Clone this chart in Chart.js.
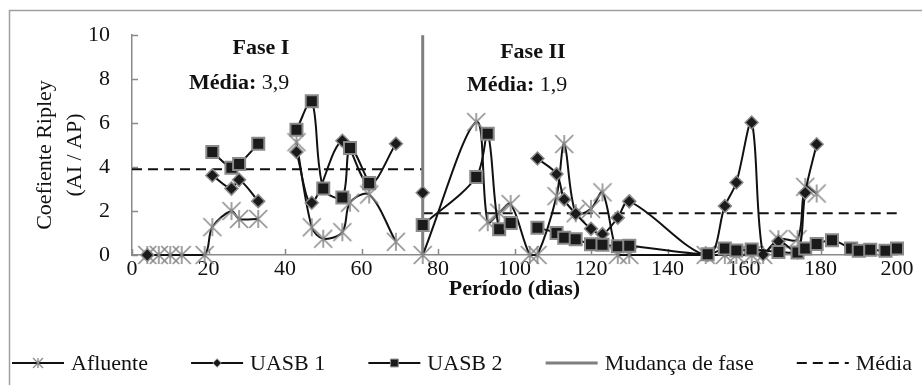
<!DOCTYPE html>
<html>
<head>
<meta charset="utf-8">
<script src="https://cdn.jsdelivr.net/npm/chart.js@4.4.1/dist/chart.umd.min.js"></script>
<style>
  html, body { margin: 0; padding: 0; background: #fff; }
  #wrap { width: 922px; height: 385px; }
</style>
</head>
<body>
<div id="wrap"><canvas id="ripleyChart" width="922" height="385"></canvas></div>
<script>
// dias de coleta e coeficiente de Ripley (AI/AP); null = sem amostra (quebra a linha)
const afluenteDias = [4, 7, 10, 13, 19, 21, 26, 28, 33, 38, 43, 47, 50, 55, 57, 62, 69, 72, 76, 90, 93, 96, 99, 104, 106, 111, 113, 116, 120, 123, 127, 130, 150, 155, 158, 162, 165, 169, 174, 176, 179];
const afluente = [0, 0, 0, 0, 0, 1.27, 2.0, 1.64, 1.64, null, 5.13, 1.26, 0.74, 1.04, 2.38, 2.75, 0.6, null, 0, 6.05, 1.49, 1.92, 2.32, 0, 0, 2.68, 5.05, 1.9, 2.1, 2.85, 0, 0, 0, 0, 0, 0, 0, 0.72, 0.72, 3.1, 2.8];

const uasb1Dias = [4, 12, 21, 26, 28, 33, 38, 43, 47, 55, 62, 69, 72, 76, 90, 106, 111, 113, 116, 120, 123, 127, 130, 150.5, 155, 158, 162, 165, 169, 174, 176, 179];
const uasb1 = [0, null, 3.62, 3.02, 3.42, 2.45, null, 4.69, 2.38, 5.2, 3.2, 5.06, null, 2.83, null, 4.39, 3.68, 2.53, 1.88, 1.19, 0.95, 1.7, 2.44, 0, 2.23, 3.3, 6.03, 0.02, 0.62, 0.12, 2.83, 5.04];

const uasb2Dias = [21, 26, 28, 33, 38, 43, 47, 50, 55, 57, 62, 69, 76, 90, 93, 96, 99, 104, 106, 111, 113, 116, 120, 123, 127, 130, 150.5, 155, 158, 162, 169, 174, 176, 179, 183, 188, 190, 193, 197, 200];
const uasb2 = [4.69, 3.97, 4.14, 5.06, null, 5.7, 7.0, 3.03, 2.62, 4.87, 3.27, null, 1.36, 3.55, 5.52, 1.17, 1.46, null, 1.24, 1.0, 0.79, 0.72, 0.49, 0.47, 0.4, 0.42, 0.03, 0.3, 0.2, 0.25, 0.14, 0.11, 0.3, 0.5, 0.67, 0.3, 0.19, 0.24, 0.19, 0.3];

// mudança de fase e média de cada fase
const diaMudanca = 76;
const limitesFases = [0, 76, 200];
const mediasFases = [3.9, 1.9];
const nomesFases = ['Fase I', 'Fase II'];

const eixoX = { min: 0, max: 200, passo: 20 };
const eixoY = { min: 0, max: 10, passo: 2 };
const tituloY = ['Coefiente Ripley', '(AI / AP)'];

const FONTE = "'Liberation Serif', 'Times New Roman', serif";
const CINZA = '#8a8a8a';

function pares(xs, ys) {
  return xs.map((x, i) => ({ x: x, y: ys[i] }));
}

function virgula(v) {
  return v.toFixed(1).replace('.', ',');
}

// asterisco do Excel: X + traço vertical
function estrela(h, cor, lw) {
  const c = document.createElement('canvas');
  const s = Math.ceil(2 * h + lw + 2);
  c.width = s; c.height = s;
  const g = c.getContext('2d');
  const m = s / 2;
  g.strokeStyle = cor;
  g.lineWidth = lw;
  g.beginPath();
  g.moveTo(m - h, m - h); g.lineTo(m + h, m + h);
  g.moveTo(m - h, m + h); g.lineTo(m + h, m - h);
  g.moveTo(m, m - h); g.lineTo(m, m + h);
  g.stroke();
  return c;
}

const estrelaGrande = estrela(9, CINZA, 1.6);
const estrelaLegenda = estrela(5, CINZA, 1.3);

const dadosMedia = [];
mediasFases.forEach((m, i) => {
  if (i > 0) dadosMedia.push({ x: limitesFases[i], y: null });
  dadosMedia.push({ x: limitesFases[i], y: m });
  dadosMedia.push({ x: limitesFases[i + 1], y: m });
});

const extras = {
  id: 'extras',
  beforeDraw(chart) {
    const ctx = chart.ctx;
    ctx.save();
    ctx.fillStyle = '#fff';
    ctx.fillRect(0, 0, chart.width, chart.height);
    ctx.strokeStyle = '#a0a0a0';
    ctx.lineWidth = 1.5;
    ctx.strokeRect(9.5, 10.5, 920, 400);
    ctx.restore();
  },
  beforeDatasetsDraw(chart) {
    // marcas de escala voltadas para dentro
    const ctx = chart.ctx;
    const xs = chart.scales.x, ys = chart.scales.y;
    ctx.save();
    ctx.strokeStyle = CINZA;
    ctx.lineWidth = 1.5;
    ctx.beginPath();
    xs.ticks.forEach(t => {
      const px = Math.round(xs.getPixelForValue(t.value)) + 0.5;
      ctx.moveTo(px, ys.bottom);
      ctx.lineTo(px, ys.bottom - 6);
    });
    ys.ticks.forEach(t => {
      const py = Math.round(ys.getPixelForValue(t.value)) + 0.5;
      ctx.moveTo(xs.left, py);
      ctx.lineTo(xs.left + 6, py);
    });
    ctx.stroke();

    // título do eixo Y em duas linhas
    ctx.fillStyle = '#111';
    ctx.font = '22px ' + FONTE;
    ctx.textAlign = 'center';
    ctx.textBaseline = 'middle';
    ctx.translate(45, 155);
    ctx.rotate(-Math.PI / 2);
    tituloY.forEach((t, i) => ctx.fillText(t, 0, i * 30));
    ctx.restore();
  },
  afterDraw(chart) {
    const ctx = chart.ctx;
    const xs = chart.scales.x, ys = chart.scales.y;
    ctx.save();
    ctx.fillStyle = '#111';
    ctx.textBaseline = 'middle';

    // títulos das fases e médias
    const posicoes = [
      { xf: 33.7, yf: 9.4, xm: 28, ym: 7.8 },
      { xf: 104.8, yf: 9.24, xm: 100.7, ym: 7.72 }
    ];
    posicoes.forEach((p, i) => {
      ctx.font = 'bold 22px ' + FONTE;
      ctx.textAlign = 'center';
      ctx.fillText(nomesFases[i], xs.getPixelForValue(p.xf), ys.getPixelForValue(p.yf));
      const a = 'Média:', b = ' ' + virgula(mediasFases[i]);
      ctx.font = 'bold 22px ' + FONTE;
      const wa = ctx.measureText(a).width;
      ctx.font = '22px ' + FONTE;
      const wb = ctx.measureText(b).width;
      const x0 = xs.getPixelForValue(p.xm) - (wa + wb) / 2;
      const y0 = ys.getPixelForValue(p.ym);
      ctx.textAlign = 'left';
      ctx.font = 'bold 22px ' + FONTE;
      ctx.fillText(a, x0, y0);
      ctx.font = '22px ' + FONTE;
      ctx.fillText(b, x0 + wa, y0);
    });

    // legenda: linha com marcador
    const sets = chart.data.datasets;
    const simbolo = 52, folga = 7, yLeg = 363;
    ctx.font = '22px ' + FONTE;
    const larg = sets.map(d => ctx.measureText(d.label).width);
    const total = larg.reduce((s, w) => s + w, 0) + sets.length * (simbolo + folga);
    const espaco = (912 - 12 - total) / (sets.length - 1);
    let x = 12;
    sets.forEach((d, i) => {
      ctx.save();
      ctx.strokeStyle = d.borderColor;
      ctx.lineWidth = d.borderWidth;
      ctx.setLineDash(d.borderDash || []);
      ctx.beginPath();
      ctx.moveTo(x, yLeg);
      ctx.lineTo(x + simbolo, yLeg);
      ctx.stroke();
      ctx.setLineDash([]);
      const cx = x + simbolo / 2;
      if (d.pointStyle instanceof HTMLCanvasElement) {
        ctx.drawImage(estrelaLegenda, cx - estrelaLegenda.width / 2, yLeg - estrelaLegenda.height / 2);
      } else if (d.pointRadius > 0) {
        ctx.fillStyle = d.pointBackgroundColor;
        ctx.strokeStyle = d.pointBorderColor;
        ctx.lineWidth = 1;
        Chart.helpers.drawPoint(ctx, { pointStyle: d.pointStyle, radius: d.pointRadius * 0.65, rotation: 0, borderWidth: 1 }, cx, yLeg);
      }
      ctx.restore();
      ctx.fillStyle = '#111';
      ctx.textAlign = 'left';
      ctx.fillText(d.label, x + simbolo + folga, yLeg + 1);
      x += simbolo + folga + larg[i] + espaco;
    });
    ctx.restore();
  }
};

const ctx = document.getElementById('ripleyChart').getContext('2d');
const chart = new Chart(ctx, {
  type: 'line',
  data: {
    datasets: [
      {
        label: 'Afluente',
        data: pares(afluenteDias, afluente),
        borderColor: '#111',
        borderWidth: 2,
        tension: 0.33,
        pointStyle: estrelaGrande,
        pointRadius: 9,
        clip: false,
        order: 3
      },
      {
        label: 'UASB 1',
        data: pares(uasb1Dias, uasb1),
        borderColor: '#111',
        borderWidth: 2,
        tension: 0.33,
        pointStyle: 'rectRot',
        pointRadius: 6.5,
        pointBackgroundColor: '#1a1a1a',
        pointBorderColor: CINZA,
        pointBorderWidth: 1.5,
        clip: false,
        order: 2
      },
      {
        label: 'UASB 2',
        data: pares(uasb2Dias, uasb2),
        borderColor: '#111',
        borderWidth: 2,
        tension: 0.33,
        pointStyle: 'rect',
        pointRadius: 8.5,
        pointBackgroundColor: '#1a1a1a',
        pointBorderColor: CINZA,
        pointBorderWidth: 2,
        clip: false,
        order: 1
      },
      {
        label: 'Mudança de fase',
        data: [{ x: diaMudanca, y: eixoY.min }, { x: diaMudanca, y: eixoY.max }],
        borderColor: '#7f7f7f',
        borderWidth: 3,
        pointRadius: 0,
        tension: 0,
        clip: false,
        order: 4
      },
      {
        label: 'Média',
        data: dadosMedia,
        borderColor: '#111',
        borderWidth: 2,
        borderDash: [10, 6],
        pointRadius: 0,
        tension: 0,
        order: 5
      }
    ]
  },
  options: {
    responsive: false,
    animation: false,
    devicePixelRatio: 1,
    layout: { padding: { left: 10, right: 25, top: 31, bottom: 0 } },
    plugins: {
      legend: { display: false },
      tooltip: { enabled: false }
    },
    scales: {
      x: {
        type: 'linear',
        min: eixoX.min,
        max: eixoX.max,
        afterFit(scale) { scale.height = 130; },
        ticks: {
          stepSize: eixoX.passo,
          padding: 1,
          color: '#111',
          font: { family: FONTE, size: 22 },
          maxRotation: 0
        },
        grid: { drawOnChartArea: false, drawTicks: false },
        border: { display: true, color: CINZA, width: 1.5 },
        title: {
          display: true,
          text: 'Período (dias)',
          color: '#111',
          font: { family: FONTE, size: 22, weight: 'bold' },
          padding: { top: 0, bottom: 82 }
        }
      },
      y: {
        min: eixoY.min,
        max: eixoY.max,
        afterFit(scale) { scale.width = 122; },
        ticks: {
          stepSize: eixoY.passo,
          padding: 22,
          color: '#111',
          font: { family: FONTE, size: 22 }
        },
        grid: { drawOnChartArea: false, drawTicks: false },
        border: { display: true, color: CINZA, width: 1.5 }
      }
    }
  },
  plugins: [extras]
});
</script>
</body>
</html>
